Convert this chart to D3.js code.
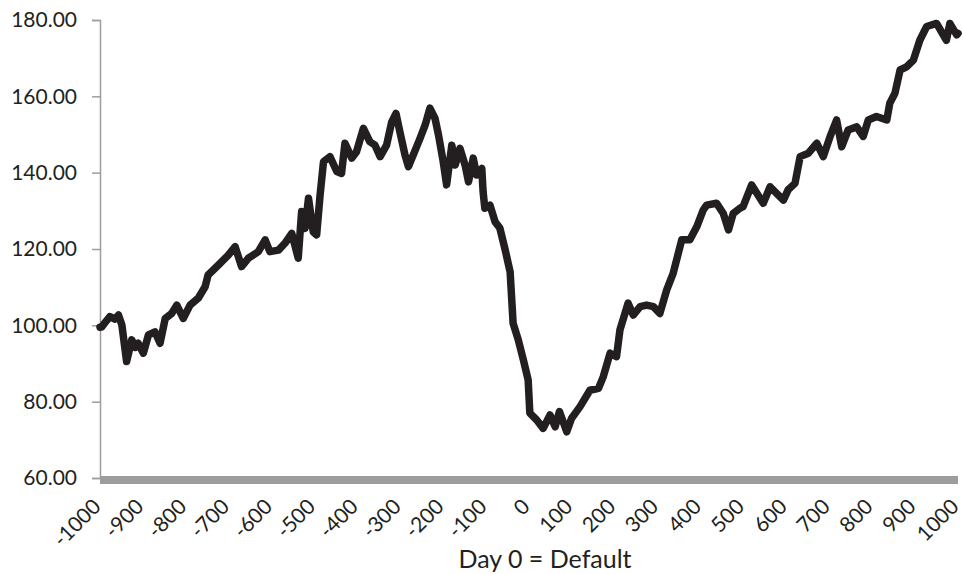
<!DOCTYPE html>
<html>
<head>
<meta charset="utf-8">
<script src="https://cdn.jsdelivr.net/npm/d3@7"></script>
<style>
  body { margin: 0; background: #fff; }
  text { font-family: Lato, "Open Sans", sans-serif; fill: #231f20; }
</style>
</head>
<body>
<div id="chart"></div>
<script>
// Day relative to default, and index value
var days = [-1000, -996, -985, -977, -965, -957, -949, -938, -926, -918, -911, -899, -887, -872, -860,
  -848, -833, -821, -806, -790, -771, -755, -748, -724, -701, -685, -670, -654, -631, -615, -604,
  -584, -569, -553, -538, -530, -522, -514, -503, -495, -487, -479, -464, -448, -437, -429, -413,
  -402, -386, -371, -359, -347, -332, -320, -310, -301, -289, -281, -270, -254, -242, -231, -219,
  -211, -200, -192, -180, -172, -161, -149, -141, -130, -122, -110, -107, -103, -91, -79, -68,
  -56, -44, -37, -25, -13, -2, 2, 18, 33, 49, 61, 71, 88, 99, 119, 142, 162, 173, 189, 204, 212,
  231, 243, 259, 274, 290, 305, 321, 336, 356, 375, 391, 406, 414, 437, 453, 465, 476, 492, 499,
  519, 546, 562, 593, 604, 620, 632, 651, 671, 686, 702, 717, 729, 744, 764, 779, 791, 810, 834,
  841, 853, 865, 880, 896, 911, 927, 950, 973, 981, 997, 1000];
var values = [99.5, 99.6, 101.2, 102.3, 101.6, 102.7, 100.1, 90.5, 96.2, 94.2, 95.3, 92.7, 97.5, 98.3, 95.3,
  101.8, 103.1, 105.3, 101.8, 105.3, 107.1, 110.1, 113.2, 115.8, 118.4, 120.6, 115.4, 117.6, 119.3, 122.4, 119.3,
  119.7, 121.5, 124.1, 117.6, 129.8, 125.4, 133.3, 124.5, 123.7, 134.1, 142.9, 144.2, 140.3, 139.8, 147.7, 143.8,
  145.5, 151.6, 148.1, 147.2, 144.2, 147.2, 153.3, 155.5, 150.7, 144.6, 141.6, 144.6, 149, 152.5, 156.9, 154.2,
  149.9, 142.9, 136.8, 147.2, 142, 146.4, 142, 137.6, 143.8, 139.4, 141.1, 135, 130.7, 131.5, 127.1, 125.5,
  120, 114, 100.5, 96.2, 90.9, 85.7, 77, 75.2, 73, 76.5, 73.4, 77.4, 72.1, 75.6, 78.7, 83, 83.5, 86.5, 92.7, 91.8, 98.8,
  105.8, 102.7, 104.9, 105.3, 104.9, 103.1, 109.3, 113.6, 122.4, 122.4, 125.8, 130.2, 131.5, 132, 129.3, 125, 129.3, 130.7, 131.1,
  136.8, 132, 136.3, 132.8, 135.5, 137.2, 144.2, 145.1, 147.7, 144.2, 149.5, 153.8, 146.8, 151.2, 152, 149.5, 153.8, 154.7, 153.8,
  158.2, 160.8, 166.9, 167.7, 169.5, 174.7, 178.3, 179.1, 174.7, 179.1, 176.1, 176.5];
var xTicks = [-1000, -900, -800, -700, -600, -500, -400, -300, -200, -100, 0, 100, 200, 300, 400, 500, 600, 700, 800, 900, 1000];
var yTicks = [60, 80, 100, 120, 140, 160, 180];

var W = 963, H = 574;
var data = days.map(function(d, i) { return {day: d, value: values[i]}; });

var x = d3.scaleLinear().domain([-1000, 1000]).range([100, 958]);
var y = d3.scaleLinear().domain([60, 180]).range([478, 20]);

var svg = d3.select('#chart').append('svg')
    .attr('width', W)
    .attr('height', H);

// y axis: thin grey line with outside ticks
var yAxis = svg.append('g')
    .attr('transform', 'translate(100,0)')
    .call(d3.axisLeft(y).tickValues(yTicks).tickSize(8).tickPadding(15).tickFormat(d3.format('.2f')));
yAxis.select('.domain').attr('stroke', '#9d9da0').attr('stroke-width', 1.5);
yAxis.selectAll('.tick line').attr('stroke', '#9d9da0').attr('stroke-width', 1.5);
yAxis.selectAll('.tick text').style('font-size', '21px').attr('fill', '#231f20');

// x axis: thick grey band, no ticks
svg.append('line')
    .attr('x1', x(-1000)).attr('x2', x(1000))
    .attr('y1', y(60) + 2).attr('y2', y(60) + 2)
    .attr('stroke', '#9d9da0')
    .attr('stroke-width', 8);

svg.append('g').selectAll('text')
    .data(xTicks)
    .join('text')
    .attr('transform', function(d) { return 'translate(' + (x(d) + 2) + ',508) rotate(-45)'; })
    .style('text-anchor', 'end')
    .style('font-size', '21px')
    .text(function(d) { return d; });

// x axis title
svg.append('text')
    .attr('x', 545)
    .attr('y', 568)
    .style('text-anchor', 'middle')
    .style('font-size', '25px')
    .text('Day 0 = Default');

// the index line
var line = d3.line()
    .x(function(d) { return x(d.day); })
    .y(function(d) { return y(d.value); });

svg.append('path')
    .datum(data)
    .attr('fill', 'none')
    .attr('stroke', '#231f20')
    .attr('stroke-width', 7.5)
    .attr('stroke-linejoin', 'round')
    .attr('stroke-linecap', 'round')
    .attr('d', line);
</script>
</body>
</html>
